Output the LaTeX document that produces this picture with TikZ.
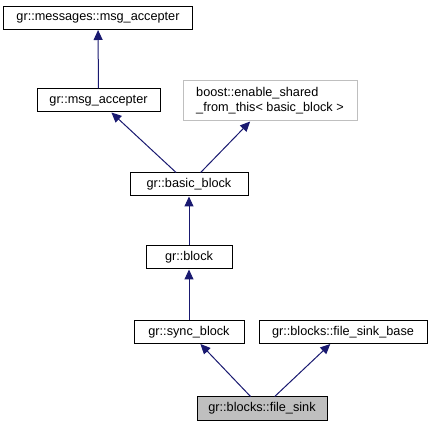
\documentclass[tikz,border=0pt]{standalone}
\usepackage{fontspec}
\setmainfont{Liberation Sans}
\usetikzlibrary{arrows.meta}
\definecolor{edge}{RGB}{25, 25, 112}
\definecolor{shade}{RGB}{191, 191, 191}

\begin{document}
\begin{tikzpicture}[x=1pt, y=-1pt, line width=1pt,
  cls/.style={draw=black, rectangle, minimum height=23pt, inner sep=0pt, font=\fontsize{12.7}{15}\selectfont},
  inherit/.style={-{Triangle[length=10pt, width=9pt]}, color=edge, line width=1pt}]

\useasboundingbox (0, 0) rectangle (431, 427);

% top row
\node[cls, minimum width=189pt] (msgbase) at (98, 18) {gr::messages::msg\_accepter};

\node[cls, minimum width=123pt] (msgacc) at (98.5, 100.5) {gr::msg\_accepter};

\node[cls, draw=shade, align=left, minimum width=174pt, minimum height=40pt] (shared) at (270, 101)
{boost::enable\_shared\\\_from\_this< basic\_block >};

% middle column
\node[cls, minimum width=118pt] (basic) at (189, 184.5) {gr::basic\_block};

\node[cls, minimum width=86pt] (block) at (189, 257.5) {gr::block};

\node[cls, minimum width=110pt] (sync) at (189, 332) {gr::sync\_block};

\node[cls, minimum width=168pt] (sinkbase) at (343, 332) {gr::blocks::file\_sink\_base};

\node[cls, fill=shade, minimum width=130pt] (sink) at (262, 408.5) {gr::blocks::file\_sink};

% inheritance
\draw[inherit] (msgacc) -- (msgbase);
\draw[inherit] (basic) -- (msgacc);
\draw[inherit] (basic) -- (shared);
\draw[inherit] (block) -- (basic);
\draw[inherit] (sync) -- (block);
\draw[inherit] (sink) -- (sync);
\draw[inherit] (sink) -- (sinkbase);

\end{tikzpicture}
\end{document}
